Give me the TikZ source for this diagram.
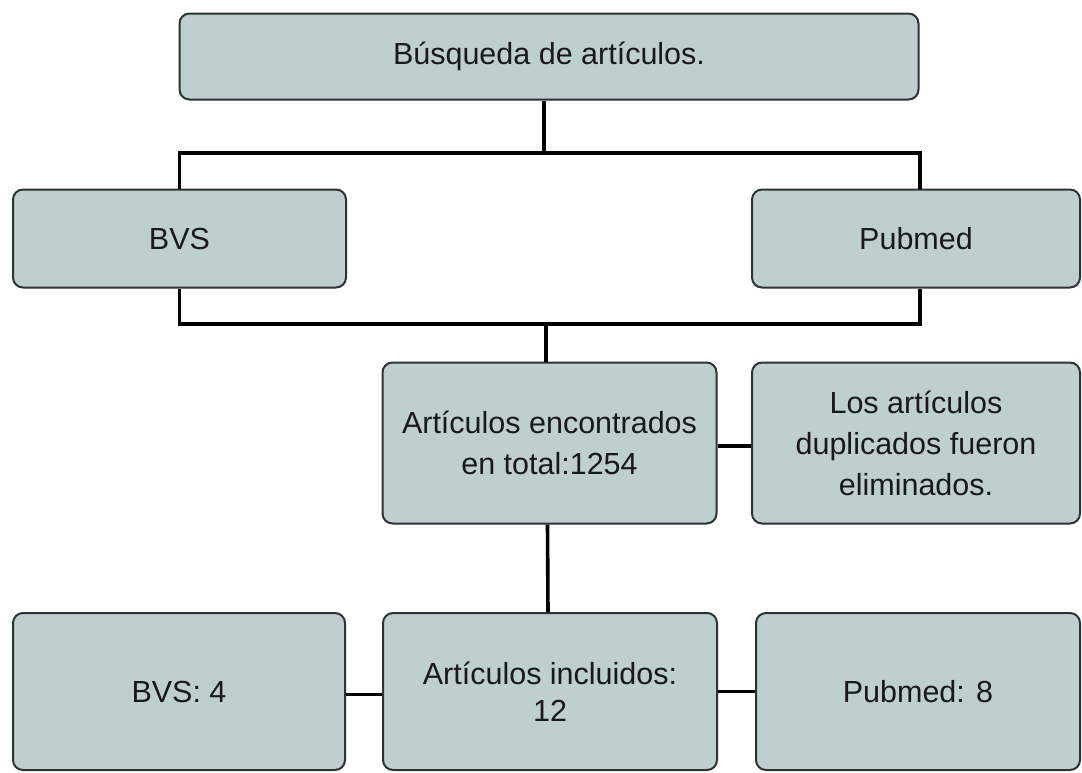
\documentclass[tikz,border=0pt]{standalone}
\usepackage{fontspec}
\setmainfont{Liberation Sans}
\definecolor{boxfill}{RGB}{191,207,207}
\definecolor{boxline}{RGB}{45,50,50}
\definecolor{txt}{RGB}{25,25,25}
\tikzset{
  box/.style={draw=boxline, line width=2pt, fill=boxfill, rounded corners=10pt,
    inner sep=0pt, align=center, text=txt,
    font=\fontsize{30.5}{41}\selectfont},
  conn/.style={draw=black, line width=3.6pt, line join=miter}
}
\begin{document}
\begin{tikzpicture}[x=1pt,y=-1pt]
\useasboundingbox (0,0) rectangle (1082,772);
% boxes (centre, width, height)
\node[box, minimum width=739pt, minimum height=86pt] (top) at (549,56.5) {Búsqueda de artículos.};
\node[box, minimum width=333pt, minimum height=98pt] (bvs) at (179.5,238.5) {BVS};
\node[box, minimum width=328pt, minimum height=98pt] (pub) at (916,238.5) {Pubmed};
\node[box, minimum width=334pt, minimum height=161pt] (enc) at (549.5,443) {Artículos encontrados\\en total:1254};
\node[box, minimum width=328pt, minimum height=161pt] (dup) at (916,443) {Los artículos\\duplicados fueron\\eliminados.};
\node[box, minimum width=332pt, minimum height=157pt] (bvs4) at (179,691.5) {BVS: 4};
\node[box, minimum width=334pt, minimum height=157pt, font=\fontsize{30.5}{37}\selectfont] (inc) at (550,691.5) {Artículos incluidos:\\12};
\node[box, minimum width=324pt, minimum height=157pt] (pub8) at (918,691.5) {Pubmed: 8};
% junction coordinates
\coordinate (j1) at (544,153);
\coordinate (j2) at (546,324);
% connectors
\draw[conn] (top.south -| j1) -- (j1);
\draw[conn] (bvs.north) |- (j1) -| ([xshift=4pt]pub.north);
\draw[conn] (bvs.south) |- (j2) -| ([xshift=4pt]pub.south);
\draw[conn] (j2) -- (enc.north -| j2);
\draw[conn] ([yshift=-3pt]enc.east) -- ([yshift=-3pt]dup.west);
\draw[conn] ([xshift=-2pt]enc.south) -- ([xshift=-2pt]inc.north);
\draw[conn] ([yshift=-3pt]bvs4.east) -- ([yshift=-3pt]inc.west);
\draw[conn] (inc.east) -- (pub8.west);
\end{tikzpicture}
\end{document}
